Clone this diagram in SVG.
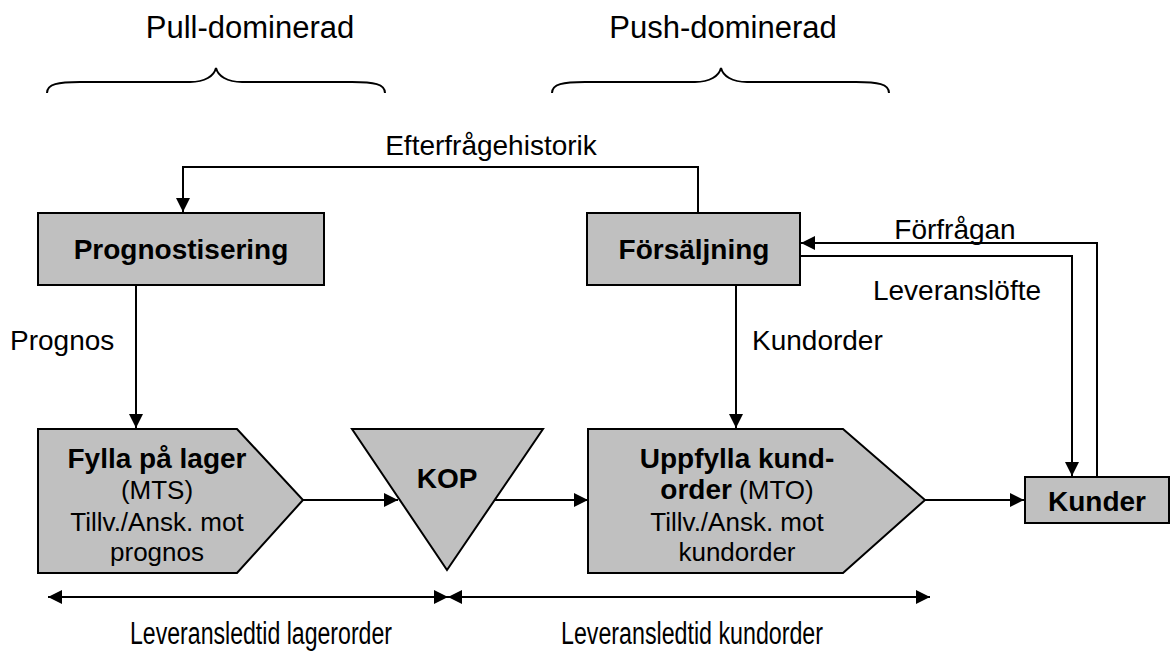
<svg xmlns="http://www.w3.org/2000/svg" width="1172" height="664" viewBox="0 0 1172 664">
  <defs>
    <marker id="arrow" viewBox="0 0 14 14" refX="14" refY="7" markerWidth="14" markerHeight="14" markerUnits="userSpaceOnUse" orient="auto-start-reverse">
      <path d="M0,0 L14,7 L0,14 Z" fill="#000"/>
    </marker>
    <style>
      .shape { fill: #c0c0c0; stroke: #000; stroke-width: 2; }
      .line { fill: none; stroke: #000; stroke-width: 2; }
      .brace { fill: none; stroke: #000; stroke-width: 2; }
      .lbl { font-family: "Liberation Sans", Arial, sans-serif; font-size: 28px; fill: #000; }
      .span { font-family: "Liberation Sans", Arial, sans-serif; font-size: 31px; fill: #000; }
      .title { font-family: "Liberation Sans", Arial, sans-serif; font-size: 31px; fill: #000; }
      .bold { font-family: "Liberation Sans", Arial, sans-serif; font-size: 28px; font-weight: bold; fill: #000; }
      .body { font-family: "Liberation Sans", Arial, sans-serif; font-size: 26px; fill: #000; }
    </style>
  </defs>

  <rect width="1172" height="664" fill="#fff"/>

  <!-- section headings with braces -->
  <g id="pull-heading">
    <text class="title" x="250" y="38" text-anchor="middle">Pull-dominerad</text>
    <path class="brace" d="M47,93 C47,84 58,82 80,82 L190,82 C205,82 214,76 216,68 C218,76 227,82 242,82 L352,82 C374,82 385,84 385,93"/>
  </g>
  <g id="push-heading">
    <text class="title" x="723" y="38" text-anchor="middle">Push-dominerad</text>
    <path class="brace" d="M552,93 C552,84 563,82 585,82 L695,82 C710,82 719,76 721,68 C723,76 732,82 747,82 L856,82 C878,82 889,84 889,93"/>
  </g>

  <!-- connectors -->
  <g id="connectors">
    <polyline class="line" points="698,213 698,167 183,167 183,212" marker-end="url(#arrow)"/>
    <text class="lbl" x="491" y="155" text-anchor="middle">Efterfrågehistorik</text>

    <line class="line" x1="136" y1="285" x2="136" y2="428" marker-end="url(#arrow)"/>
    <text class="lbl" x="10" y="350">Prognos</text>

    <line class="line" x1="736" y1="285" x2="736" y2="428" marker-end="url(#arrow)"/>
    <text class="lbl" x="752" y="350">Kundorder</text>

    <polyline class="line" points="1097,477 1097,243 801,243" marker-end="url(#arrow)"/>
    <text class="lbl" x="955" y="239" text-anchor="middle">Förfrågan</text>

    <polyline class="line" points="800,256 1072,256 1072,476" marker-end="url(#arrow)"/>
    <text class="lbl" x="957" y="300" text-anchor="middle">Leveranslöfte</text>

    <line class="line" x1="303" y1="500" x2="398" y2="500" marker-end="url(#arrow)"/>
    <line class="line" x1="495" y1="500" x2="588" y2="500" marker-end="url(#arrow)"/>
    <line class="line" x1="925" y1="500" x2="1024" y2="500" marker-end="url(#arrow)"/>

    <!-- lead-time spans -->
    <line class="line" x1="48" y1="597" x2="448" y2="597" marker-start="url(#arrow)" marker-end="url(#arrow)"/>
    <line class="line" x1="448" y1="597" x2="930" y2="597" marker-start="url(#arrow)" marker-end="url(#arrow)"/>
    <text class="span" x="261" y="644" text-anchor="middle" textLength="262" lengthAdjust="spacingAndGlyphs">Leveransledtid lagerorder</text>
    <text class="span" x="692" y="644" text-anchor="middle" textLength="262" lengthAdjust="spacingAndGlyphs">Leveransledtid kundorder</text>
  </g>

  <!-- nodes -->
  <g id="prognostisering">
    <rect class="shape" x="38" y="213" width="286" height="72"/>
    <text class="bold" x="181" y="259" text-anchor="middle">Prognostisering</text>
  </g>

  <g id="forsaljning">
    <rect class="shape" x="587" y="213" width="213" height="72"/>
    <text class="bold" x="694" y="259" text-anchor="middle">Försäljning</text>
  </g>

  <g id="fylla-lager">
    <polygon class="shape" points="38,429 237,429 303,500 237,573 38,573"/>
    <text class="bold" x="157" y="468" text-anchor="middle">Fylla på lager</text>
    <text class="body" x="157" y="499" text-anchor="middle">(MTS)</text>
    <text class="body" x="157" y="531" text-anchor="middle">Tillv./Ansk. mot</text>
    <text class="body" x="157" y="561" text-anchor="middle">prognos</text>
  </g>

  <g id="kop">
    <polygon class="shape" points="352,429 543,429 447,570"/>
    <text class="bold" x="447" y="488" text-anchor="middle">KOP</text>
  </g>

  <g id="uppfylla-kundorder">
    <polygon class="shape" points="588,429 843,429 925,500 843,573 588,573"/>
    <text class="bold" x="737" y="468" text-anchor="middle">Uppfylla kund-</text>
    <text class="body" x="737" y="499" text-anchor="middle"><tspan class="bold">order</tspan> (MTO)</text>
    <text class="body" x="737" y="531" text-anchor="middle">Tillv./Ansk. mot</text>
    <text class="body" x="737" y="561" text-anchor="middle">kundorder</text>
  </g>

  <g id="kunder">
    <rect class="shape" x="1025" y="477" width="144" height="46"/>
    <text class="bold" x="1097" y="511" text-anchor="middle">Kunder</text>
  </g>
</svg>
